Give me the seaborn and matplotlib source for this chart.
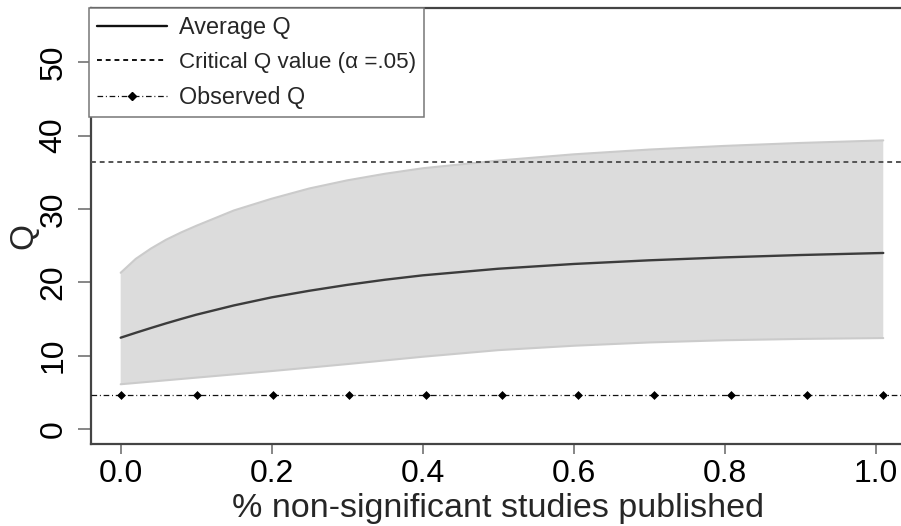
import matplotlib
matplotlib.use("Agg")
import matplotlib.pyplot as plt
import seaborn as sns
from matplotlib.lines import Line2D

# ---- data ----
x_curve = [0.0, 0.02, 0.04, 0.06, 0.08, 0.10, 0.15, 0.20, 0.25, 0.30, 0.35,
           0.40, 0.50, 0.60, 0.70, 0.80, 0.90, 1.01]
mean_q = [12.45, 13.12, 13.77, 14.4, 15.0, 15.58, 16.85, 17.95, 18.85, 19.65, 20.35,
          20.95, 21.85, 22.5, 23.0, 23.4, 23.72, 24.0]
upper_q = [21.3, 23.2, 24.6, 25.8, 26.8, 27.7, 29.8, 31.4, 32.8, 33.9, 34.8,
           35.55, 36.6, 37.45, 38.1, 38.6, 39.0, 39.35]
lower_q = [6.1, 6.28, 6.46, 6.64, 6.82, 7.0, 7.45, 7.9, 8.37, 8.85, 9.35,
           9.85, 10.75, 11.35, 11.8, 12.1, 12.28, 12.4]

x_obs = [0.0, 0.101, 0.202, 0.303, 0.404, 0.505, 0.606, 0.707, 0.808, 0.909, 1.01]
obs_q = [4.68, 4.68, 4.68, 4.68, 4.68, 4.68, 4.68, 4.68, 4.68, 4.68, 4.68]
critical_q = 36.42
observed_q = 4.68

x_ticks = [0.0, 0.2, 0.4, 0.6, 0.8, 1.0]
x_tick_labels = ["0.0", "0.2", "0.4", "0.6", "0.8", "1.0"]
y_ticks = [0, 10, 20, 30, 40, 50]
y_tick_labels = ["0", "10", "20", "30", "40", "50"]
legend_labels = ["Average Q", "Critical Q value (\u03b1 =.05)", "Observed Q"]

# ---- style ----
sns.set_style("white")
plt.rcParams['font.family'] = ['Liberation Sans', 'DejaVu Sans']

fig = plt.figure(figsize=(9.01, 5.26), dpi=100)
ax = fig.add_axes([91 / 901, 1 - 444 / 526, 810 / 901, 436 / 526])

# band
ax.fill_between(x_curve, lower_q, upper_q, facecolor='#dcdcdc', edgecolor='none', zorder=1)
sns.lineplot(x=x_curve, y=upper_q, color='#cbcbcb', lw=1.5, ax=ax, zorder=2)
sns.lineplot(x=x_curve, y=lower_q, color='#cbcbcb', lw=1.5, ax=ax, zorder=2)

# mean
sns.lineplot(x=x_curve, y=mean_q, color='#3c3c3c', lw=1.7, ax=ax, zorder=3)

# critical
crit_line = ax.axhline(critical_q, color='#555555', lw=1.4, zorder=3)
crit_line.set_dashes((2.5, 2.0))

# observed
obs_hline = ax.axhline(observed_q, color='#111111', lw=0.9, zorder=3)
obs_hline.set_dashes((4.5, 2.2, 0.8, 2.2))
sns.scatterplot(x=x_obs, y=obs_q, marker='D', s=16, color='#000000',
                edgecolor='#000000', linewidth=0.5, ax=ax, zorder=4)

ax.set_xlim(-0.0393, 1.0335)
ax.set_ylim(-2.045, 57.4)

ax.set_xticks(x_ticks)
ax.set_xticklabels(x_tick_labels)
ax.set_yticks(y_ticks)
ax.set_yticklabels(y_tick_labels)
ax.tick_params(axis='x', bottom=True, length=7.5, width=1.1, color='#666666',
               pad=3, labelsize=23, labelcolor='black')
ax.tick_params(axis='y', left=True, length=9.3, width=1.1, color='#666666',
               pad=7, labelsize=23, labelcolor='black')
for lbl in ax.get_yticklabels():
    lbl.set_rotation(90)
    lbl.set_va('center')

for s in ['left', 'bottom', 'top']:
    ax.spines[s].set_visible(True)
    ax.spines[s].set_color('#444444')
    ax.spines[s].set_linewidth(1.6)
ax.spines['right'].set_visible(False)

ax.set_xlabel('% non-significant studies published', fontsize=24.5, va='baseline')
ax.xaxis.set_label_coords(0.502, (444 - 517) / 436)
ax.set_ylabel('Q', fontsize=24, va='center')
ax.yaxis.set_label_coords((23.5 - 91) / 810, (444 - 236) / 436)

obs_handle = Line2D([], [], color='#111111', lw=0.9, marker='D', markersize=4,
                    markerfacecolor='#000000', markeredgecolor='#000000',
                    dashes=(4.5, 2.2, 0.8, 2.2))
mean_handle = Line2D([], [], color='#111111', lw=1.7)
crit_handle = Line2D([], [], color='#111111', lw=1.4, dashes=(2.5, 2.0))

leg = ax.legend([mean_handle, crit_handle, obs_handle], legend_labels,
                loc='upper left', bbox_to_anchor=(89.3 / 901, 1 - 8.3 / 526),
                bbox_transform=fig.transFigure, borderaxespad=0, fontsize=16.8,
                frameon=True, fancybox=False, edgecolor='#777777', framealpha=1,
                borderpad=0.34, handlelength=3.0, handletextpad=0.52,
                labelspacing=0.55, numpoints=1)
leg.get_frame().set_linewidth(1.1)
for t, fs in zip(leg.get_texts(), [16.8, 16.1, 16.8]):
    t.set_fontsize(fs)

fig.savefig('out.png', dpi=100)
